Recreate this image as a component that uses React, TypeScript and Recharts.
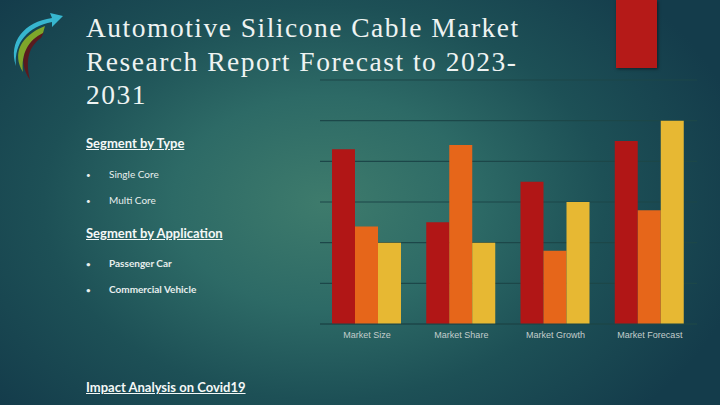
import { BarChart, Bar, XAxis, YAxis, CartesianGrid } from "recharts";

const categories = ["Market Size", "Market Share", "Market Growth", "Market Forecast"];
const series1 = [4.3, 2.5, 3.5, 4.5];
const series2 = [2.4, 4.4, 1.8, 2.8];
const series3 = [2, 2, 3, 5];
const yTicks = [0, 1, 2, 3, 4, 5, 6];

const typeItems = ["Single Core", "Multi Core"];
const applicationItems = ["Passenger Car", "Commercial Vehicle"];

const chartData = categories.map((name, i) => ({
  name,
  s1: series1[i],
  s2: series2[i],
  s3: series3[i],
}));

const BAR_COLORS = ["#b11616", "#e6661a", "#e7b833"];

const textFont = "Lato, 'Open Sans', sans-serif";

function Logo() {
  return (
    <svg width={70} height={85} style={{ position: "absolute", left: 0, top: 0 }}>
      <path d="M30 80 C18 62 22 42 44 32 L41 38 C29 46 25 60 30 80 Z" fill="#5a1a1e" />
      <path d="M23 72 C12 54 20 36 45 26 L43 33 C28 40 21 54 23 72 Z" fill="#7ea62a" />
      <path d="M16 66 C8 42 24 22 52 18 L50 13 L63 16 L52 27 L52 22 C28 27 14 42 16 66 Z" fill="#37b6cf" />
    </svg>
  );
}

function Bullets({ items, bold, top }: { items: string[]; bold: boolean; top: number }) {
  return (
    <>
      {items.map((item, i) => (
        <div
          key={item}
          style={{
            position: "absolute",
            left: 86,
            top: top + i * 26,
            fontFamily: textFont,
            fontSize: 10,
            fontWeight: bold ? 700 : 400,
            color: "#e8efee",
            whiteSpace: "nowrap",
          }}
        >
          <span style={{ display: "inline-block", width: 23, fontSize: 8 }}>•</span>
          {item}
        </div>
      ))}
    </>
  );
}

function Heading({ text, top }: { text: string; top: number }) {
  return (
    <div
      style={{
        position: "absolute",
        left: 86,
        top,
        fontFamily: textFont,
        fontSize: 13,
        fontWeight: 700,
        color: "#f4f8f7",
        textDecoration: "underline",
        whiteSpace: "nowrap",
      }}
    >
      {text}
    </div>
  );
}

export default function App() {
  return (
    <div
      style={{
        position: "absolute",
        left: 0,
        top: 0,
        width: 720,
        height: 405,
        overflow: "hidden",
        background:
          "radial-gradient(ellipse 60% 75% at 45% 50%, #3e7b6c 0%, #2d6a66 35%, #1d5056 65%, #143c4b 100%)",
      }}
    >
      <Logo />
      <div
        style={{
          position: "absolute",
          left: 86,
          top: 11,
          fontFamily: "'Liberation Serif', serif",
          fontSize: 27.5,
          letterSpacing: 1.5,
          lineHeight: "33.5px",
          color: "#eef3f2",
          whiteSpace: "nowrap",
        }}
      >
        Automotive Silicone Cable Market
        <br />
        Research Report Forecast to 2023-
        <br />
        2031
      </div>
      <div
        style={{
          position: "absolute",
          left: 616,
          top: 0,
          width: 41,
          height: 68,
          background: "#b51a18",
          boxShadow: "1px 1px 3px rgba(0,0,0,0.5)",
        }}
      />

      <Heading text="Segment by Type" top={135} />
      <Bullets items={typeItems} bold={false} top={168} />
      <Heading text="Segment by Application" top={225} />
      <Bullets items={applicationItems} bold top={257} />
      <Heading text="Impact Analysis on Covid19" top={379} />

      <div style={{ position: "absolute", left: 320, top: 79 }}>
        <BarChart
          width={377}
          height={276}
          data={chartData}
          margin={{ top: 1, right: 0, bottom: 0, left: 0 }}
          barCategoryGap={12}
          barGap={0}
        >
          <CartesianGrid vertical={false} stroke="#1c4749" strokeWidth={1.2} />
          <YAxis hide domain={[0, 6]} ticks={yTicks} />
          <XAxis
            dataKey="name"
            axisLine={{ stroke: "#1c4749", strokeWidth: 1.2 }}
            tickLine={false}
            height={31}
            tick={{ fill: "#c3cdcc", fontSize: 9, fontFamily: "'Liberation Sans', Arial, sans-serif" }}
          />
          <Bar dataKey="s1" fill={BAR_COLORS[0]} isAnimationActive={false} />
          <Bar dataKey="s2" fill={BAR_COLORS[1]} isAnimationActive={false} />
          <Bar dataKey="s3" fill={BAR_COLORS[2]} isAnimationActive={false} />
        </BarChart>
      </div>
    </div>
  );
}
